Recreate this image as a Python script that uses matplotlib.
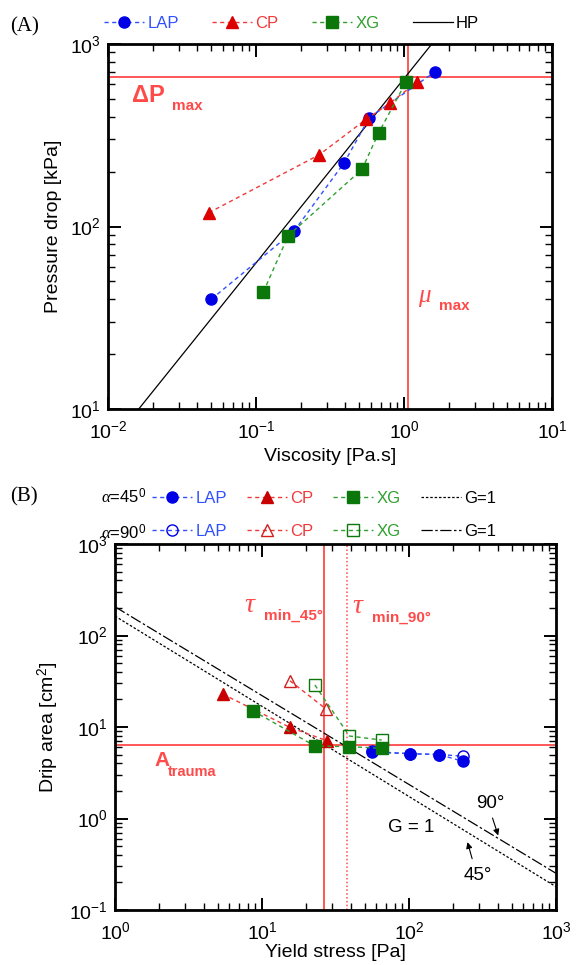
import matplotlib.pyplot as plt
import numpy as np
from matplotlib.ticker import LogLocator, NullFormatter

plt.rcParams['font.family'] = ['Liberation Sans', 'DejaVu Sans']
plt.rcParams['mathtext.fontset'] = 'custom'
plt.rcParams['mathtext.rm'] = 'Liberation Sans'
plt.rcParams['mathtext.it'] = 'Liberation Serif:italic'
plt.rcParams['mathtext.bf'] = 'Liberation Sans:bold'

# ---- panel A : pressure drop vs viscosity ----
lap_mu = [0.05, 0.182, 0.395, 0.583, 1.63]
lap_dp = [40, 95, 224, 395, 706]
cp_mu = [0.048, 0.267, 0.555, 0.80, 1.22]
cp_dp = [119, 247, 387, 473, 617]
xg_mu = [0.112, 0.165, 0.521, 0.675, 1.03]
xg_dp = [43.7, 89, 206, 327, 617]
hp_K, hp_n = 646, 1.01          # HP fit: dp = K * mu^n
dp_max = 662
mu_max = 1.07

# ---- panel B : drip area vs yield stress ----
lap45_tau = [55.7, 101.6, 161, 232]
lap45_A = [5.33, 5.11, 4.99, 4.22]
lap90_tau = [55.7, 101.6, 161, 232]
lap90_A = [5.4, 5.1, 5.0, 4.8]
cp45_tau = [5.4, 15.5, 27.5]
cp45_A = [22.9, 9.9, 7.1]
cp90_tau = [15.5, 27.3]
cp90_A = [32, 15.7]
xg45_tau = [8.64, 22.9, 39.3, 65.2]
xg45_A = [15.1, 6.2, 6.1, 5.85]
xg90_tau = [22.9, 39.3, 65.2]
xg90_A = [28.8, 7.97, 7.2]
g45_K, g45_n = 163, -0.986      # G = 1 model, 45 deg
g90_K, g90_n = 206, -0.971      # G = 1 model, 90 deg
tau_min_45 = 26.5
tau_min_90 = 38
A_trauma = 6.3

BLUE, BLUE_L = '#0000e6', '#3050ff'
RED, RED_L = '#dd0000', '#f03a3a'
GREEN, GREEN_L = '#0b770b', '#2fa02f'
REF = '#ff4a4a'
DASH = (0, (3, 2.5))

fig = plt.figure(figsize=(5.76, 9.65), dpi=100)
axA = fig.add_axes([108/576, 1-409/965, 444/576, 365/965])
axB = fig.add_axes([115/576, 1-910/965, 441/576, 366/965])


def style(ax):
    ax.set_xscale('log')
    ax.set_yscale('log')
    for s in ax.spines.values():
        s.set_linewidth(2)
    ax.tick_params(which='both', direction='in', top=True, right=True, labelsize=14)
    ax.tick_params(which='major', length=9, width=1.4)
    ax.tick_params(which='minor', length=5, width=1.0)
    ax.tick_params(axis='x', pad=8)
    ax.tick_params(axis='y', pad=5)
    ax.xaxis.set_minor_locator(LogLocator(10, subs=np.arange(2, 10), numticks=20))
    ax.yaxis.set_minor_locator(LogLocator(10, subs=np.arange(2, 10), numticks=20))
    ax.xaxis.set_minor_formatter(NullFormatter())
    ax.yaxis.set_minor_formatter(NullFormatter())


# ---------------- A ----------------
style(axA)
axA.axhline(dp_max, color=REF, lw=1.3, zorder=1)
axA.axvline(mu_max, color=REF, lw=1.3, zorder=1)
mu = np.logspace(-2, 1, 100)
hp, = axA.plot(mu, hp_K * mu**hp_n, color='k', lw=0.9, zorder=2)
l1, = axA.plot(lap_mu, lap_dp, ls=DASH, color=BLUE_L, lw=1, marker='o', ms=8,
               mfc=BLUE, mec=BLUE, zorder=3)
l2, = axA.plot(cp_mu, cp_dp, ls=DASH, color=RED_L, lw=1, marker='^', ms=9,
               mfc=RED, mec=RED, zorder=3)
l3, = axA.plot(xg_mu, xg_dp, ls=DASH, color=GREEN_L, lw=1, marker='s', ms=8,
               mfc=GREEN, mec=GREEN, zorder=3)
axA.set_xlim(1e-2, 1e1)
axA.set_ylim(1e1, 1e3)
axA.set_xlabel('Viscosity [Pa.s]', fontsize=14, labelpad=4)
axA.set_ylabel('Pressure drop [kPa]', fontsize=14, labelpad=6)

axA.annotate('ΔP', (0.0145, 525), fontsize=17, color=REF, weight='bold', va='center')
axA.annotate('max', (0.0145, 525), xytext=(29, -8), textcoords='offset points',
             fontsize=11, color=REF, weight='bold', va='center')
axA.annotate(r'$\mu$', (1.25, 41), fontsize=18, color=REF, va='center')
axA.annotate('max', (1.25, 41), xytext=(15, -6), textcoords='offset points',
             fontsize=11, color=REF, weight='bold', va='center')

legA = axA.legend([l1, l2, l3, hp], ['LAP', 'CP', 'XG', 'HP'], ncol=4, frameon=False,
                  fontsize=12, loc='center left', bbox_to_anchor=(104/576, 1-23/965),
                  bbox_transform=fig.transFigure, handlelength=2.4, handletextpad=0.2,
                  columnspacing=2.0, borderpad=0, numpoints=1, borderaxespad=0)
for t, c in zip(legA.get_texts(), [BLUE_L, RED_L, GREEN_L, 'k']):
    t.set_color(c)
fig.text(10/576, 1-27/965, '(A)', fontsize=15, family='Liberation Serif', va='center')

# ---------------- B ----------------
style(axB)
axB.axhline(A_trauma, color=REF, lw=1.3, zorder=1)
axB.axvline(tau_min_45, color=REF, lw=1.3, zorder=1)
axB.axvline(tau_min_90, color=REF, lw=1.1, ls=(0, (1, 1.5)), zorder=1)
tau = np.logspace(0, 3, 100)
g45, = axB.plot(tau, g45_K * tau**g45_n, color='k', lw=0.9, ls=(0, (2, 1.5)), zorder=2)
g90, = axB.plot(tau, g90_K * tau**g90_n, color='k', lw=0.9, ls=(0, (9, 2, 2, 2)), zorder=2)

b_lap90, = axB.plot(lap90_tau, lap90_A, ls=DASH, color=BLUE_L, lw=1, marker='o', ms=8,
                    mfc='none', mec=BLUE, zorder=3)
b_cp90, = axB.plot(cp90_tau, cp90_A, ls=DASH, color=RED_L, lw=1, marker='^', ms=9,
                   mfc='none', mec='#d02020', zorder=3)
b_xg90, = axB.plot(xg90_tau, xg90_A, ls=DASH, color=GREEN_L, lw=1, marker='s', ms=8,
                   mfc='none', mec=GREEN, zorder=3)
b_lap45, = axB.plot(lap45_tau, lap45_A, ls=DASH, color=BLUE_L, lw=1, marker='o', ms=8,
                    mfc=BLUE, mec=BLUE, zorder=4)
b_cp45, = axB.plot(cp45_tau, cp45_A, ls=DASH, color=RED_L, lw=1, marker='^', ms=9,
                   mfc='#c80000', mec='#c80000', zorder=4)
b_xg45, = axB.plot(xg45_tau, xg45_A, ls=DASH, color=GREEN_L, lw=1, marker='s', ms=8,
                   mfc=GREEN, mec=GREEN, zorder=4)
axB.set_xlim(1e0, 1e3)
axB.set_ylim(1e-1, 1e3)
axB.set_xlabel('Yield stress [Pa]', fontsize=14, labelpad=1)
axB.set_ylabel('Drip area [cm$^2$]', fontsize=14, labelpad=6)

axB.annotate('τ', (7.6, 215), fontsize=20, color=REF, va='center',
             family='Liberation Serif', style='italic')
axB.annotate('min_45°', (7.6, 215), xytext=(14, -8), textcoords='offset points',
             fontsize=11, color=REF, weight='bold', va='center')
axB.annotate('τ', (41, 206), fontsize=20, color=REF, va='center',
             family='Liberation Serif', style='italic')
axB.annotate('min_90°', (41, 206), xytext=(14, -8), textcoords='offset points',
             fontsize=11, color=REF, weight='bold', va='center')
axB.annotate('A', (1.85, 4.3), fontsize=15, color=REF, weight='bold', va='center')
axB.annotate('trauma', (1.85, 4.3), xytext=(10, -8), textcoords='offset points',
             fontsize=10.5, color=REF, weight='bold', va='center')

axB.text(72, 0.8, 'G = 1', fontsize=13.5, va='center')
axB.text(285, 1.47, '90°', fontsize=13.5, va='center')
axB.text(235, 0.24, '45°', fontsize=13.5, va='center')
axB.annotate('', xy=(410, 0.61), xytext=(365, 1.08),
             arrowprops=dict(arrowstyle='-|>', color='k', lw=0.8, mutation_scale=9))
axB.annotate('', xy=(247, 0.59), xytext=(272, 0.34),
             arrowprops=dict(arrowstyle='-|>', color='k', lw=0.8, mutation_scale=9))

hB = [b_lap45, b_lap90, b_cp45, b_cp90, b_xg45, b_xg90, g45, g90]
labB = ['LAP', 'LAP', 'CP', 'CP', 'XG', 'XG', 'G=1', 'G=1']
legB = axB.legend(hB, labB, ncol=4, frameon=False, fontsize=12,
                  loc='center left', bbox_to_anchor=(152/576, 1-515/965),
                  bbox_transform=fig.transFigure, handlelength=2.4, handletextpad=0.2,
                  columnspacing=1.2, borderpad=0, numpoints=1, borderaxespad=0,
                  labelspacing=1.05)
for t, c in zip(legB.get_texts(), [BLUE_L, BLUE_L, RED_L, RED_L, GREEN_L, GREEN_L, 'k', 'k']):
    t.set_color(c)
fig.text(101/576, 1-497/965, r'$\alpha$=45$^0$', fontsize=12, va='center')
fig.text(101/576, 1-533/965, r'$\alpha$=90$^0$', fontsize=12, va='center')
fig.text(10/576, 1-497/965, '(B)', fontsize=15, family='Liberation Serif', va='center')

fig.savefig('out.png', dpi=100)
